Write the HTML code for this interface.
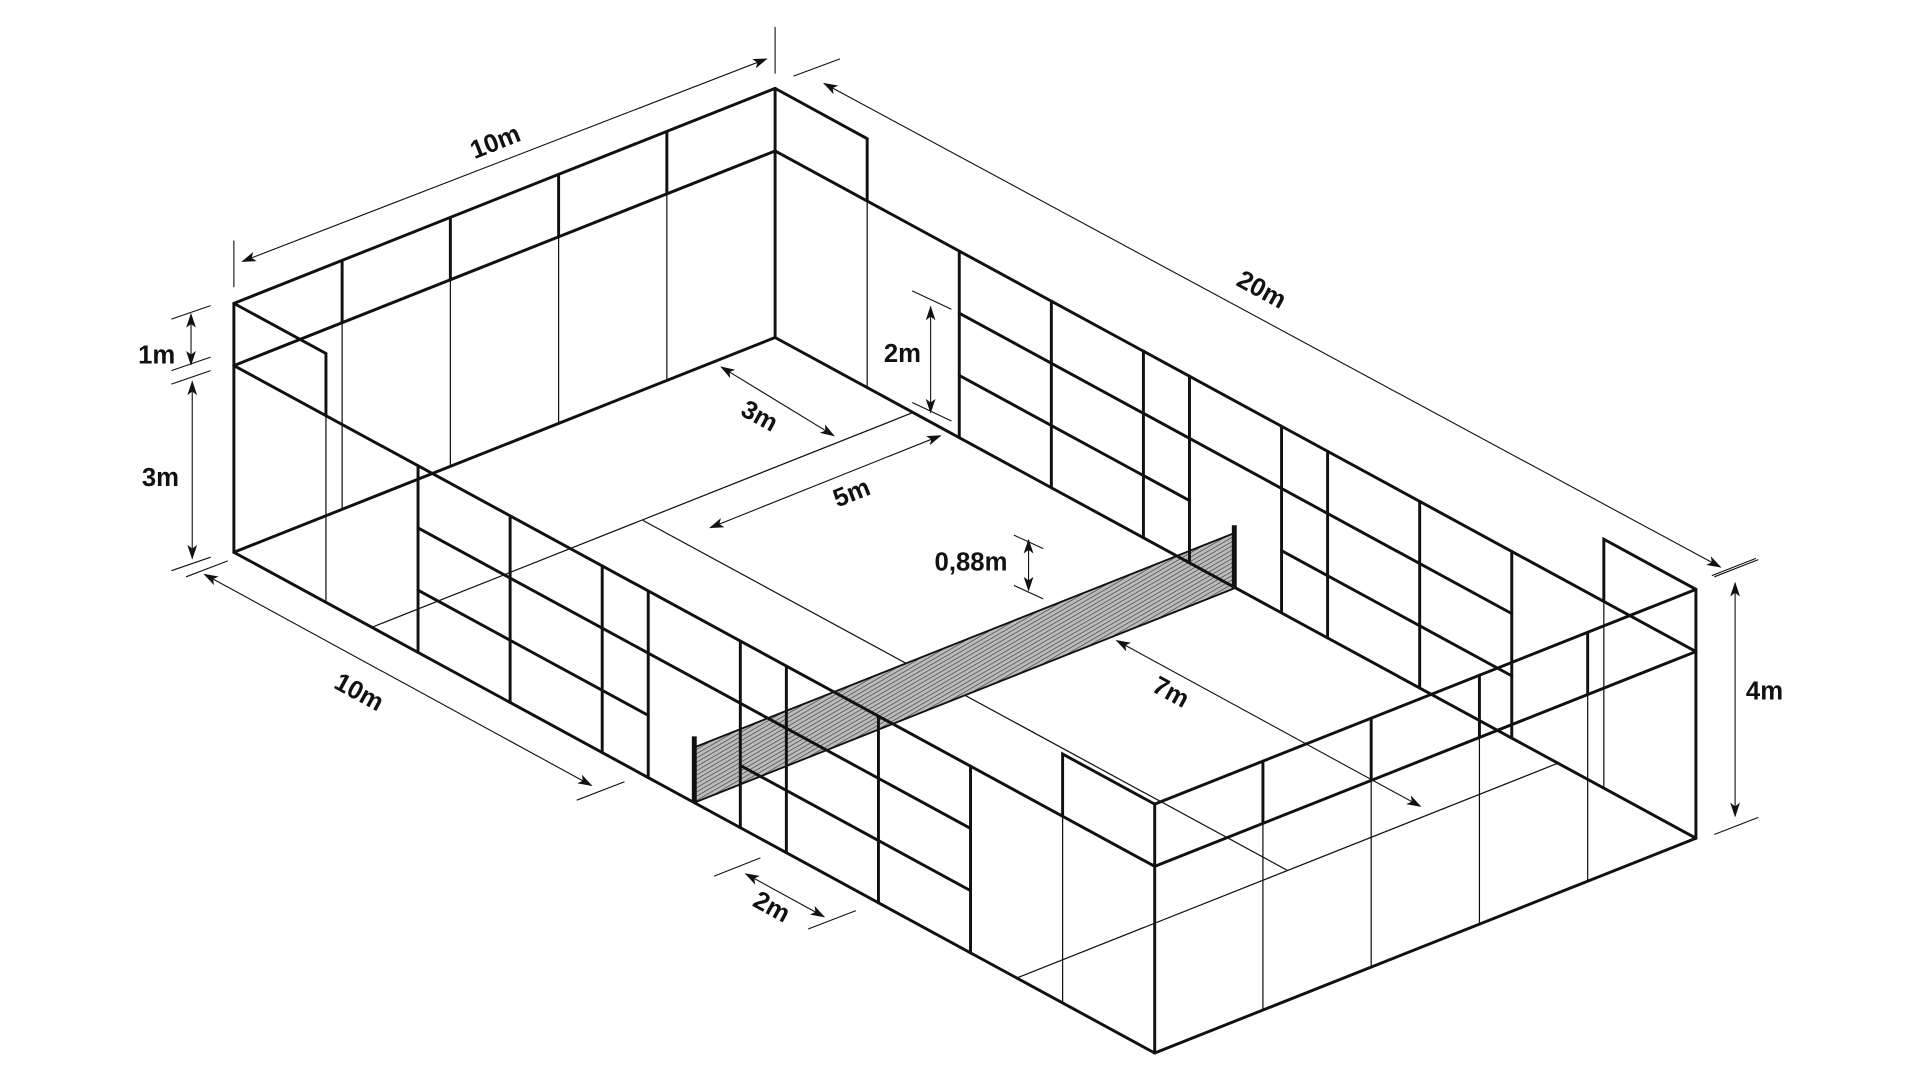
<!DOCTYPE html>
<html><head><meta charset="utf-8"><style>
html,body{margin:0;padding:0;background:#fff;}
svg{display:block;}
text{font-family:"Liberation Sans Narrow","Liberation Sans",sans-serif;font-weight:bold;font-size:21px;fill:#111;}
</style></head><body>
<svg width="1920" height="1080" viewBox="0 0 1568 880" preserveAspectRatio="none" xmlns="http://www.w3.org/2000/svg">
<defs>
<marker id="ar" markerWidth="12" markerHeight="8" refX="11" refY="4" orient="auto-start-reverse" markerUnits="userSpaceOnUse">
<path d="M0,0 L12,4 L0,8 L3,4 Z" fill="#111"/></marker>
<pattern id="h" width="3" height="3" patternUnits="userSpaceOnUse" patternTransform="rotate(-30)">
<rect width="3" height="3" fill="#bbb"/><line x1="0" y1="0" x2="3" y2="0" stroke="#333" stroke-width="1"/></pattern>
</defs>
<rect width="1568" height="880" fill="#fff"/>

<!-- thin lines -->
<g stroke="#111" stroke-width="1" fill="none">
<!-- floor court lines -->
<line x1="746" y1="336" x2="304" y2="511"/>
<line x1="1272" y1="622" x2="830" y2="797"/>
<line x1="525" y1="424" x2="1051" y2="709"/>
<!-- back wall thin verticals -->
<line x1="544.6" y1="157.9" x2="544.6" y2="310"/>
<line x1="456.2" y1="192.9" x2="456.2" y2="345"/>
<line x1="367.8" y1="227.9" x2="367.8" y2="380"/>
<line x1="279.4" y1="262.9" x2="279.4" y2="415"/>
<!-- side glass thin -->
<line x1="708.2" y1="163.7" x2="708.2" y2="315.8"/>
<line x1="1309.8" y1="490.1" x2="1309.8" y2="642.2"/>
<line x1="266.2" y1="338.7" x2="266.2" y2="490.8"/>
<line x1="867.8" y1="665.1" x2="867.8" y2="817.2"/>
<!-- front wall thin -->
<line x1="1296.6" y1="565.9" x2="1296.6" y2="718"/>
<line x1="1208.2" y1="600.9" x2="1208.2" y2="753"/>
<line x1="1119.8" y1="635.9" x2="1119.8" y2="788"/>
<line x1="1031.4" y1="670.9" x2="1031.4" y2="823"/>
</g>

<!-- net -->
<polygon points="567,654 1009,479 1009,434 567,609" fill="url(#h)" stroke="#111" stroke-width="1.5"/>
<line x1="567" y1="600" x2="567" y2="654" stroke="#111" stroke-width="4"/>
<line x1="1008" y1="428" x2="1008" y2="479" stroke="#111" stroke-width="4"/>

<!-- thick lines -->
<g stroke="#111" stroke-width="2.4" fill="none" stroke-linecap="round">
<!-- back wall -->
<line x1="633" y1="72" x2="191" y2="247.2"/>
<line x1="633" y1="123" x2="191" y2="297.9"/>
<line x1="633" y1="275" x2="191" y2="450"/>
<line x1="633" y1="72" x2="633" y2="275"/>
<line x1="191" y1="247.2" x2="191" y2="450"/>
<line x1="544.6" y1="107.2" x2="544.6" y2="157.9"/>
<line x1="456.2" y1="142.2" x2="456.2" y2="192.9"/>
<line x1="367.8" y1="177.2" x2="367.8" y2="227.9"/>
<line x1="279.4" y1="212.2" x2="279.4" y2="262.9"/>
<!-- right wall (w=0) -->
<polyline points="633,72 708.2,113 708.2,163.7"/>
<line x1="633" y1="123" x2="1385" y2="530.9"/>
<line x1="633" y1="275" x2="1385" y2="683"/>
<polyline points="1309.8,490.1 1309.8,439.4 1385,480.2"/>
<line x1="783.4" y1="204.5" x2="783.4" y2="356.6"/>
<line x1="858.6" y1="245.3" x2="858.6" y2="397.4"/>
<line x1="933.8" y1="286.1" x2="933.8" y2="438.2"/>
<line x1="971.4" y1="306.5" x2="971.4" y2="458.6"/>
<line x1="1046.6" y1="347.3" x2="1046.6" y2="499.4"/>
<line x1="1084.2" y1="367.7" x2="1084.2" y2="519.8"/>
<line x1="1159.4" y1="408.5" x2="1159.4" y2="560.6"/>
<line x1="1234.6" y1="449.3" x2="1234.6" y2="601.4"/>
<line x1="783.4" y1="255.2" x2="1234.6" y2="500"/>
<line x1="783.4" y1="305.9" x2="971.4" y2="407.9"/>
<line x1="1046.6" y1="448.7" x2="1234.6" y2="550.7"/>
<!-- left wall (w=10) -->
<polyline points="191,247.2 266.2,288 266.2,338.7"/>
<line x1="191" y1="297.9" x2="943" y2="705.9"/>
<line x1="191" y1="450" x2="943" y2="858"/>
<polyline points="867.8,665.1 867.8,614.4 943,655.2"/>
<line x1="341.4" y1="379.5" x2="341.4" y2="531.6"/>
<line x1="416.6" y1="420.3" x2="416.6" y2="572.4"/>
<line x1="491.8" y1="461.1" x2="491.8" y2="613.2"/>
<line x1="529.4" y1="481.5" x2="529.4" y2="633.6"/>
<line x1="604.6" y1="522.3" x2="604.6" y2="674.4"/>
<line x1="642.2" y1="542.7" x2="642.2" y2="694.8"/>
<line x1="717.4" y1="583.5" x2="717.4" y2="735.6"/>
<line x1="792.6" y1="624.3" x2="792.6" y2="776.4"/>
<line x1="341.4" y1="430.2" x2="792.6" y2="675"/>
<line x1="341.4" y1="480.9" x2="529.4" y2="582.9"/>
<line x1="604.6" y1="623.7" x2="792.6" y2="725.7"/>
<!-- front wall -->
<line x1="943" y1="655.2" x2="1385" y2="480.2"/>
<line x1="943" y1="705.9" x2="1385" y2="530.9"/>
<line x1="943" y1="858" x2="1385" y2="683"/>
<line x1="943" y1="655.2" x2="943" y2="858"/>
<line x1="1385" y1="480.2" x2="1385" y2="683"/>
<line x1="1296.6" y1="515.2" x2="1296.6" y2="565.9"/>
<line x1="1208.2" y1="550.2" x2="1208.2" y2="600.9"/>
<line x1="1119.8" y1="585.2" x2="1119.8" y2="635.9"/>
<line x1="1031.4" y1="620.2" x2="1031.4" y2="670.9"/>
</g>

<!-- dimensions -->
<g stroke="#111" stroke-width="0.9" fill="none">
<line x1="191" y1="196" x2="191" y2="234"/>
<line x1="633" y1="22" x2="633" y2="60"/>
<line x1="198" y1="213" x2="626" y2="48" marker-start="url(#ar)" marker-end="url(#ar)"/>
<line x1="648" y1="62" x2="686" y2="48"/>
<line x1="1398" y1="469" x2="1434" y2="455"/>
<line x1="673" y1="68" x2="1405" y2="462" marker-start="url(#ar)" marker-end="url(#ar)"/>
<line x1="140" y1="260" x2="172" y2="249"/>
<line x1="140" y1="302" x2="172" y2="291"/>
<line x1="156" y1="256" x2="156" y2="297" marker-start="url(#ar)" marker-end="url(#ar)"/>
<line x1="140" y1="313" x2="172" y2="302"/>
<line x1="140" y1="465" x2="172" y2="454"/>
<line x1="157" y1="311" x2="157" y2="455" marker-start="url(#ar)" marker-end="url(#ar)"/>
<line x1="152" y1="470" x2="186" y2="457"/>
<line x1="471" y1="652" x2="510" y2="637"/>
<line x1="167" y1="468" x2="483" y2="640" marker-start="url(#ar)" marker-end="url(#ar)"/>
<line x1="583" y1="714" x2="621" y2="699"/>
<line x1="660" y1="757" x2="699" y2="742"/>
<line x1="609" y1="712" x2="673" y2="747" marker-start="url(#ar)" marker-end="url(#ar)"/>
<line x1="745" y1="237" x2="777" y2="252"/>
<line x1="745" y1="328" x2="777" y2="343"/>
<line x1="760" y1="250" x2="760" y2="336" marker-start="url(#ar)" marker-end="url(#ar)"/>
<line x1="589" y1="299" x2="681" y2="355" marker-start="url(#ar)" marker-end="url(#ar)"/>
<line x1="580" y1="430" x2="768" y2="355" marker-start="url(#ar)" marker-end="url(#ar)"/>
<line x1="828" y1="436" x2="852" y2="447"/>
<line x1="828" y1="477" x2="852" y2="488"/>
<line x1="840" y1="440" x2="840" y2="481" marker-start="url(#ar)" marker-end="url(#ar)"/>
<line x1="912" y1="522" x2="1160" y2="657" marker-start="url(#ar)" marker-end="url(#ar)"/>
<line x1="1400" y1="470" x2="1436" y2="456"/>
<line x1="1400" y1="680" x2="1436" y2="666"/>
<line x1="1417" y1="475" x2="1417" y2="665" marker-start="url(#ar)" marker-end="url(#ar)"/>
</g>

<g>
<text transform="translate(407,122) rotate(-21.6)" text-anchor="middle">10m</text>
<text transform="translate(1027,242) rotate(28.5)" text-anchor="middle">20m</text>
<text x="128" y="296" text-anchor="middle">1m</text>
<text x="131" y="396" text-anchor="middle">3m</text>
<text transform="translate(290,570) rotate(28.5)" text-anchor="middle">10m</text>
<text transform="translate(627,745) rotate(28.5)" text-anchor="middle">2m</text>
<text x="737" y="295" text-anchor="middle">2m</text>
<text transform="translate(617,345) rotate(28.5)" text-anchor="middle">3m</text>
<text transform="translate(698,408) rotate(-21.6)" text-anchor="middle">5m</text>
<text x="793" y="465" text-anchor="middle">0,88m</text>
<text transform="translate(953,570) rotate(28.5)" text-anchor="middle">7m</text>
<text x="1441" y="570" text-anchor="middle">4m</text>
</g>
</svg>
</body></html>
